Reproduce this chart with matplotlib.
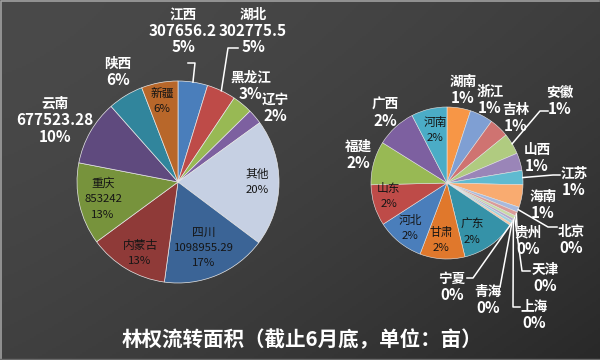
import numpy as np
import matplotlib.pyplot as plt

plt.rcParams['font.family'] = ['Noto Sans CJK SC', 'DejaVu Sans']

# main pie (mu); "其他" is the sum of the secondary pie
main_names = ['江西', '湖北', '黑龙江', '辽宁', '其他', '四川', '内蒙古', '重庆', '云南', '陕西', '新疆']
main_known = [307656.2, 302775.5, 211000, 155000, None, 1098955.29, 830000, 853242, 677523.28, 370000, 380000]
main_colors = ['#4a7ebb', '#be4b48', '#98b954', '#7d60a0', '#c6d0e3', '#3b6496',
               '#8f3a38', '#77933c', '#5f4a7e', '#31859c', '#b8672a']

# secondary pie ("其他")
rest_names = ['湖南', '浙江', '吉林', '安徽', '山西', '江苏', '海南', '北京', '贵州', '天津',
              '上海', '青海', '宁夏', '广东', '甘肃', '河北', '山东', '福建', '广西', '河南']
rest_values = [66000, 65000, 55000, 59000, 49000, 40000, 63000, 14000, 12000, 9000,
               7000, 8000, 6000, 155000, 126000, 133000, 115000, 122000, 112000, 100000]
rest_colors = ['#f79646', '#7f9fd3', '#cf7371', '#b0cb80', '#9a85b8', '#5fbad0', '#f9ab70',
               '#a7b9dd', '#db9b99', '#c8dba4', '#b5a6cb', '#9dd1e0', '#fac49c',
               '#3592a8', '#e0782c', '#4a7ebb', '#be4b48', '#98b954', '#7d60a0', '#4bacc6']

# names whose labels also show the raw value
show_value = ['江西', '湖北', '云南', '四川', '重庆']

title = '林权流转面积（截止6月底，单位：亩）'

other = sum(rest_values)
main_values = [other if v is None else v for v in main_known]
total = sum(main_values)


def pct(v):
    return f'{round(v / total * 100):.0f}%'


def fmt(v):
    return str(int(v)) if float(v).is_integer() else str(v)


# label placement in pixel coords: name -> (x, y, inside, leader points)
main_pos = {
    '江西': (183, 31, False, [(195, 63), (188, 63)]),
    '湖北': (253, 31, False, [(228, 48), (238, 48)]),
    '黑龙江': (251, 86, False, None),
    '辽宁': (275, 108, False, None),
    '其他': (257, 182, True, None),
    '四川': (204, 248, True, None),
    '内蒙古': (140, 253, True, None),
    '重庆': (103, 199, True, None),
    '云南': (55, 120, False, None),
    '陕西': (118, 72, False, None),
    '新疆': (162, 101, True, None),
}
rest_pos = {
    '湖南': (463, 90, False, None),
    '浙江': (490, 100, False, None),
    '吉林': (516, 118, False, None),
    '安徽': (560, 101, False, [(540, 111), (548, 111)]),
    '山西': (537, 158, False, None),
    '江苏': (574, 182, False, [(553, 175), (560, 175)]),
    '海南': (543, 205, False, None),
    '北京': (571, 240, False, [(548, 227), (557, 227)]),
    '贵州': (528, 241, False, [(517, 226)]),
    '天津': (545, 278, False, [(522, 271), (530, 271)]),
    '上海': (534, 315, False, [(513, 307), (520, 307)]),
    '青海': (488, 300, False, [(500, 287)]),
    '宁夏': (452, 287, False, [(473, 278), (467, 278)]),
    '广东': (472, 232, True, None),
    '甘肃': (441, 240, True, None),
    '河北': (410, 228, True, None),
    '山东': (389, 196, True, None),
    '福建': (358, 155, False, None),
    '广西': (385, 113, False, None),
    '河南': (435, 130, True, None),
}

fig = plt.figure(figsize=(6, 3.6), dpi=100)

# background gradient
bg = fig.add_axes([0, 0, 1, 1])
yy, xx = np.mgrid[0:1:180j, 0:1:300j]
shade = 0.29 - 0.05 * (xx ** 1.5) - 0.04 * (yy ** 1.5) - 0.04 * (xx * yy)
bg.imshow(np.dstack([shade] * 3), extent=(0, 1, 0, 1), aspect='auto', origin='upper')
bg.plot([0.002, 0.002, 0.998], [0, 0.997, 0.997], color='#a0a0a0', lw=1.2)
bg.plot([0, 1], [0.003, 0.003], color='#6a6a6a', lw=1)
bg.set_xlim(0, 1)
bg.set_ylim(0, 1)
bg.axis('off')

ax = fig.add_axes([0, 0, 1, 1])
ax.patch.set_alpha(0)

L_C, L_R = (178, 182), 101
R_C, R_R = (447, 183), 76

wl, _ = ax.pie(main_values, colors=main_colors, center=L_C, radius=L_R,
               startangle=-90, counterclock=True, frame=True,
               wedgeprops=dict(edgecolor='#e8e8e8', linewidth=0.5))
wr, _ = ax.pie(rest_values, colors=rest_colors, center=R_C, radius=R_R,
               startangle=-90, counterclock=True, frame=True,
               wedgeprops=dict(edgecolor='#e8e8e8', linewidth=0.4))


def draw_label(x, y, lines, inside):
    if inside:
        col, sizes, step, wt = '#151515', (8.5, 8.2), 15.5, 'normal'
    else:
        col, sizes, step, wt = 'white', (9.8, 11), 16.5, 'bold'
    y0 = y - step * (len(lines) - 1) / 2
    for i, s in enumerate(lines):
        is_num = all(c in '0123456789.%' for c in s)
        ax.text(x, y0 + i * step, s, color=col, ha='center', va='center',
                fontsize=sizes[1] if is_num else sizes[0], fontweight=wt)


def label_pie(wedges, names, values, pos, center, r):
    for w, n, v in zip(wedges, names, values):
        x, y, inside, leader = pos[n]
        lines = [n]
        if n in show_value:
            lines.append(fmt(v))
        lines.append(pct(v))
        draw_label(x, y, lines, inside)
        if leader:
            mid = np.deg2rad((w.theta1 + w.theta2) / 2)
            ax_pt = (center[0] + r * np.cos(mid), center[1] + r * np.sin(mid))
            pts = [ax_pt] + leader
            ax.plot([p[0] for p in pts], [p[1] for p in pts], color='white', lw=1.1)


label_pie(wl, main_names, main_values, main_pos, L_C, L_R)
label_pie(wr, rest_names, rest_values, rest_pos, R_C, R_R)

ax.text(302, 340, title, color='white', ha='center', va='center',
        fontsize=14.8, fontweight='bold')

ax.set_xlim(0, 600)
ax.set_ylim(360, 0)
ax.set_aspect('auto')
ax.axis('off')

fig.savefig('out.png', dpi=100)
